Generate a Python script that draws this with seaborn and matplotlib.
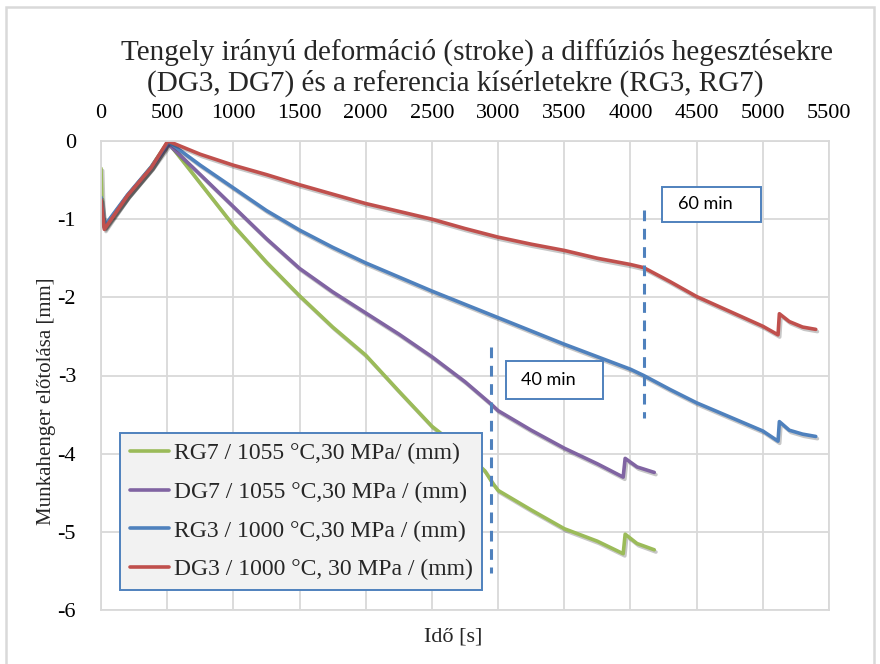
import numpy as np
import pandas as pd
import matplotlib
matplotlib.use("Agg")
import matplotlib.pyplot as plt
import matplotlib.patheffects as pe
from matplotlib.patches import Rectangle
import seaborn as sns

# ---------------- data ----------------
title_line1 = "Tengely irányú deformáció (stroke) a diffúziós hegesztésekre"
title_line2 = "(DG3, DG7) és a referencia kísérletekre (RG3, RG7)"
x_label = "Idő [s]"
y_label = "Munkahenger előtolása [mm]"

series_names = [
    "RG7 / 1055 °C,30 MPa/ (mm)",
    "DG7 / 1055 °C,30 MPa / (mm)",
    "RG3 / 1000 °C,30 MPa / (mm)",
    "DG3 / 1000 °C, 30 MPa / (mm)",
]
series_colors = ["#9bbb59", "#8064a2", "#4f81bd", "#c0504d"]

rg7_t = [0, 12, 25, 200, 380, 505, 750, 1000, 1250, 1500, 1750, 2000, 2250, 2500,
         2750, 2900, 2960, 3000, 3250, 3500, 3750, 3945, 3960, 4050, 4180]
rg7_d = [-0.35, -1.05, -1.10, -0.70, -0.33, -0.01, -0.54, -1.08, -1.55, -1.98, -2.38,
         -2.74, -3.20, -3.65, -3.98, -4.22, -4.38, -4.47, -4.72, -4.96, -5.12, -5.28,
         -5.03, -5.15, -5.23]

dg7_t = [0, 25, 200, 380, 510, 750, 1000, 1250, 1500, 1750, 2000, 2250, 2500, 2750,
         2950, 3000, 3250, 3500, 3750, 3945, 3960, 4050, 4180]
dg7_d = [-0.90, -1.11, -0.70, -0.34, -0.04, -0.43, -0.84, -1.25, -1.63, -1.93, -2.20,
         -2.47, -2.76, -3.08, -3.37, -3.45, -3.70, -3.93, -4.13, -4.30, -4.06, -4.17,
         -4.24]

rg3_t = [0, 25, 200, 380, 510, 750, 1000, 1250, 1500, 1750, 2000, 2250, 2500, 2750,
         3000, 3250, 3500, 3750, 4000, 4100, 4300, 4500, 4750, 5000, 5115, 5125, 5200,
         5300, 5400]
rg3_d = [-0.72, -1.09, -0.69, -0.33, -0.01, -0.31, -0.60, -0.89, -1.14, -1.36, -1.56,
         -1.74, -1.92, -2.09, -2.26, -2.43, -2.60, -2.76, -2.92, -3.00, -3.18, -3.35,
         -3.53, -3.71, -3.84, -3.59, -3.70, -3.75, -3.78]

dg3_t = [0, 25, 200, 380, 505, 750, 1000, 1250, 1500, 1750, 2000, 2250, 2500, 2750,
         3000, 3250, 3500, 3750, 4000, 4100, 4300, 4500, 4750, 5000, 5115, 5125, 5200,
         5300, 5400]
dg3_d = [-0.75, -1.13, -0.70, -0.34, 0.00, -0.17, -0.31, -0.43, -0.56, -0.68, -0.80,
         -0.90, -1.00, -1.12, -1.23, -1.32, -1.40, -1.50, -1.58, -1.62, -1.80, -1.99,
         -2.18, -2.37, -2.48, -2.21, -2.31, -2.38, -2.41]

x_ticks = [0, 500, 1000, 1500, 2000, 2500, 3000, 3500, 4000, 4500, 5000, 5500]
y_ticks = [0, -1, -2, -3, -4, -5, -6]

marker_labels = ["40 min", "60 min"]
marker_times = [2950, 4100]
marker_top = [-2.64, -0.88]
marker_bottom = [-5.53, -3.55]
box_x0 = [3059, 4242]
box_x1 = [3794, 4987]
box_y_top = [-2.82, -0.59]
box_y_bot = [-3.30, -1.03]

# ---------------- build table ----------------
frames = []
for name, t, d in zip(series_names,
                      [rg7_t, dg7_t, rg3_t, dg3_t],
                      [rg7_d, dg7_d, rg3_d, dg3_d]):
    frames.append(pd.DataFrame({"t": t, "d": d, "series": name}))
df = pd.concat(frames, ignore_index=True)

# ---------------- style ----------------
sns.set_theme(style="white")
SERIF = ["Liberation Serif", "DejaVu Serif"]
plt.rcParams["font.family"] = SERIF
plt.rcParams["axes.unicode_minus"] = False

W, H = 880, 664
fig = plt.figure(figsize=(W / 100, H / 100), dpi=100)
fig.patch.set_facecolor("white")

# outer chart border
fig.patches.append(Rectangle((6 / W, -0.02), (874 - 6) / W, 1.02 - 7 / H,
                             transform=fig.transFigure, fill=False,
                             edgecolor="#d9d9d9", lw=1.8, zorder=0))

left, right, top, bottom = 101, 829, 141, 610
ax = fig.add_axes([left / W, 1 - bottom / H, (right - left) / W, (bottom - top) / H])

palette = dict(zip(series_names, series_colors))
sns.lineplot(data=df, x="t", y="d", hue="series", palette=palette,
             hue_order=series_names, units="series", estimator=None, sort=False,
             lw=2.6, ax=ax, legend=False)

for line in ax.get_lines():
    line.set_path_effects([pe.SimpleLineShadow(offset=(1.2, -1.6), alpha=0.22,
                                               shadow_color="black"),
                           pe.Normal()])
    line.set_solid_capstyle("round")
    line.set_solid_joinstyle("round")

# dashed time markers
for t, y0, y1 in zip(marker_times, marker_top, marker_bottom):
    ax.plot([t, t], [y0, y1], color="#4f81bd", lw=2.2, ls=(0, (3.5, 2.5)), zorder=4)

# annotation boxes
for lab, x0, x1, yt, yb in zip(marker_labels, box_x0, box_x1, box_y_top, box_y_bot):
    ax.add_patch(Rectangle((x0, yb), x1 - x0, yt - yb, facecolor="white",
                           edgecolor="#4f81bd", lw=1.4, zorder=5))
    ax.text(x0 + 115, (yt + yb) / 2, lab, fontsize=13, family=["Lato", "DejaVu Sans"],
            va="center", ha="left", color="black", zorder=6)

ax.set_xlim(0, 5500)
ax.set_ylim(-6, 0)
ax.set_xticks(x_ticks)
ax.set_yticks(y_ticks)
ax.set_xticklabels([str(v) for v in x_ticks])
ax.set_yticklabels([str(v) for v in y_ticks])
ax.xaxis.tick_top()
ax.tick_params(axis="both", length=0, labelsize=16, colors="black")
ax.tick_params(axis="x", pad=13)
ax.tick_params(axis="y", pad=18)
for tk in ax.xaxis.get_major_ticks() + ax.yaxis.get_major_ticks():
    tk.label1.set_fontfamily(SERIF)
    tk.label2.set_fontfamily(SERIF)
ax.grid(True, color="#d9d9d9", lw=1.3)
for sp in ax.spines.values():
    sp.set_color("#d9d9d9")
    sp.set_linewidth(1.3)
ax.set_xlabel(x_label, fontsize=16, family=SERIF)
ax.xaxis.set_label_position("bottom")
ax.xaxis.set_label_coords((453 - left) / (right - left), -(637 - bottom) / (bottom - top))
ax.xaxis.label.set_va("center")
ax.set_ylabel(y_label, fontsize=15, family=SERIF)
ax.yaxis.set_label_coords(-(left - 46) / (right - left), (bottom - 401) / (bottom - top))
ax.yaxis.label.set_va("center")

# legend
handles = ax.get_lines()[:4]
leg = ax.legend(handles, series_names, loc="lower left",
                bbox_to_anchor=(120 / W, 1 - 590 / H), bbox_transform=fig.transFigure,
                prop={"family": SERIF, "size": 17}, frameon=True, fancybox=False,
                framealpha=1, facecolor="#f2f2f2", edgecolor="#4f81bd",
                handlelength=1.65, handletextpad=0.2, labelspacing=0.72,
                borderpad=0.42, borderaxespad=0)
leg.get_frame().set_linewidth(1.4)
for h in leg.legend_handles:
    h.set_path_effects([])
    h.set_linewidth(2.6)
leg.set_zorder(7)

# title
fig.text(477 / W, 1 - 52 / H, title_line1, ha="center", va="center", fontsize=21,
         family=SERIF)
fig.text(455 / W, 1 - 83 / H, title_line2, ha="center", va="center", fontsize=21,
         family=SERIF)

fig.savefig("out.png", dpi=100)
